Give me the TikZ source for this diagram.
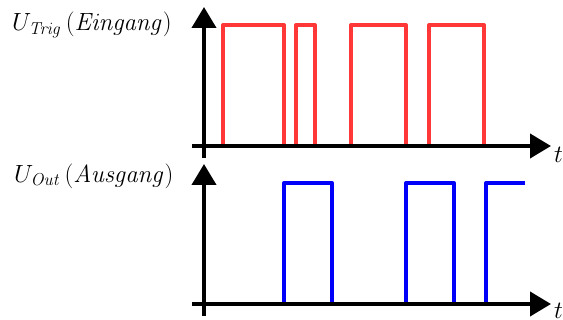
\documentclass[tikz,border=0pt]{standalone}
\usetikzlibrary{arrows.meta}
\definecolor{sigred}{RGB}{255,55,55}
\definecolor{sigblue}{RGB}{0,0,250}
\begin{document}
\begin{tikzpicture}[x=1pt,y=-1pt,
  axis/.style={line width=4pt,-{Triangle[length=21pt,width=24pt]}},
  sig/.style={line width=4pt,line join=round},
  lbl/.style={font=\fontsize{24}{28}\selectfont,inner sep=0pt}]
\useasboundingbox (0,0) rectangle (563,320);
% labels
\node[lbl,anchor=west] (lin) at (12,25) {$U_{\mathit{Trig}}\left(\mathit{Eingang}\right)$};
\node[lbl,anchor=west] (lout) at (14,176) {$U_{\mathit{Out}}\left(\mathit{Ausgang}\right)$};
% top signal
\draw[sig,sigred] (223,146) -- (223,25) -- (284,25) -- (284,146);
\draw[sig,sigred] (296,146) -- (296,25) -- (315,25) -- (315,146);
\draw[sig,sigred] (351,146) -- (351,25) -- (406,25) -- (406,146);
\draw[sig,sigred] (429,146) -- (429,25) -- (484,25) -- (484,146);
% bottom signal
\draw[sig,sigblue] (284,304) -- (284,183) -- (332,183) -- (332,304);
\draw[sig,sigblue] (406,304) -- (406,183) -- (454,183) -- (454,304);
\draw[sig,sigblue] (486,304) -- (486,183) -- (525,183);
% axes
\coordinate (y1b) at (204,158); \coordinate (y1t) at (204,7);
\coordinate (x1l) at (192,146); \coordinate (x1r) at (551,146);
\coordinate (y2b) at (204,316); \coordinate (y2t) at (204,164);
\coordinate (x2l) at (192,304); \coordinate (x2r) at (551,304);
\draw[axis] (y1b) -- (y1t);
\draw[axis] (x1l) -- (x1r);
\draw[axis] (y2b) -- (y2t);
\draw[axis] (x2l) -- (x2r);
\node[lbl,anchor=west] (t1) at (554,155) {$t$};
\node[lbl,anchor=west] (t2) at (554,311) {$t$};
\end{tikzpicture}
\end{document}
